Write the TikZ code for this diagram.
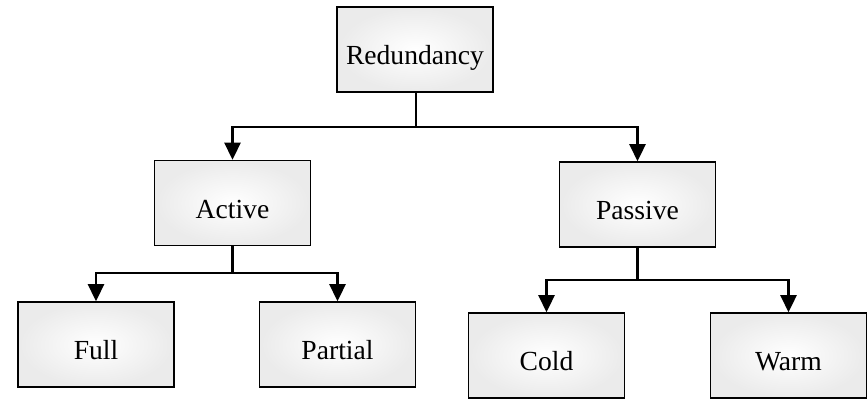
\documentclass[tikz,border=0pt]{standalone}
\usepackage{fontspec}
\setmainfont{Liberation Serif}
\usetikzlibrary{calc,arrows.meta}

\begin{document}
\begin{tikzpicture}[x=1pt, y=-1pt,
        box/.style={draw, line width=1.6pt, rectangle, inner color=white, outer color=gray!16,
          minimum width=156pt, minimum height=85pt, text height=30pt, text depth=0pt,
          font=\fontsize{27.6}{33}\selectfont},
        link/.style={line width=2.6pt},
        arrow/.style={link, -{Triangle[length=17pt, width=16pt]}}]
        \useasboundingbox (0,0) rectangle (867,400);

        % Top
        \node[box] (Redundancy) at (415, 49.5) {Redundancy};
        \coordinate (split0) at (416, 127);
        \draw[link] (Redundancy.south -| split0) -- (split0);

        % Active
        \node[box] (Active) at (232.5, 203) {Active};
        \draw[arrow] (split0) -| (Active.north);
        \coordinate (split1) at (232.5, 273);
        \draw[link] (Active.south) -- (split1);

        % Passive
        \node[box] (Passive) at (637.5, 204.5) {Passive};
        \draw[arrow] (split0) -| (Passive.north);
        \coordinate (split2) at (637.5, 280);
        \draw[link] (Passive.south) -- (split2);

        % Leaves
        \node[box] (Full) at (96, 344.5) {Full};
        \node[box] (Partial) at (337.5, 344.5) {Partial};
        \node[box] (Cold) at (546.5, 355.5) {Cold};
        \node[box] (Warm) at (788.5, 355.5) {Warm};

        \draw[arrow] (split1) -| (Full.north);
        \draw[arrow] (split1) -| (Partial.north);
        \draw[arrow] (split2) -| (Cold.north);
        \draw[arrow] (split2) -| (Warm.north);
      \end{tikzpicture}
\end{document}
